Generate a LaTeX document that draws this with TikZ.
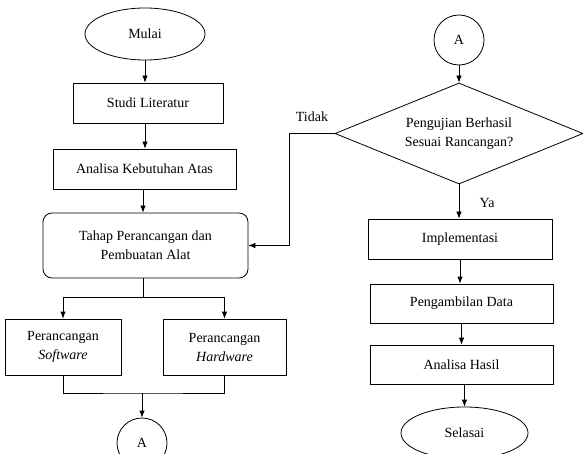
\documentclass[tikz,border=0pt]{standalone}
\usepackage{fontspec}
\setmainfont{Liberation Serif}
\usetikzlibrary{shapes.geometric,arrows.meta}
\begin{document}
\begin{tikzpicture}[x=1pt,y=1pt,
  every node/.style={font=\fontsize{14}{19}\selectfont, inner sep=0pt},
  boxnode/.style={draw, line width=0.8pt, rectangle, align=center},
  termnode/.style={draw, line width=0.8pt, ellipse},
  connnode/.style={draw, line width=0.8pt, circle, minimum size=50pt},
  decnode/.style={draw, line width=0.8pt, diamond, aspect=2.45, align=center},
  link/.style={line width=0.8pt},
  arr/.style={line width=0.8pt, -{Latex[length=7pt,width=5.5pt]}},
  lbl/.style={font=\fontsize{14}{16}\selectfont}
]
\clip (0,0) rectangle (583,-454);
\fill[white] (0,0) rectangle (583,-454);

% left column
\node[termnode, minimum width=120pt, minimum height=52pt] (mulai) at (145,-34) {Mulai};
\node[boxnode, minimum width=150pt, minimum height=40pt] (studi) at (148,-103) {Studi Literatur};
\node[boxnode, minimum width=183pt, minimum height=40pt] (analisa) at (144.5,-169) {Analisa Kebutuhan Atas};
\node[boxnode, rounded corners=9pt, minimum width=205pt, minimum height=65pt] (tahap) at (145.5,-245.5) {Tahap Perancangan dan\\Pembuatan Alat};
\node[boxnode, minimum width=116pt, minimum height=56pt] (soft) at (63,-347) {Perancangan\\\textit{Software}};
\node[boxnode, minimum width=123pt, minimum height=56pt] (hard) at (224.5,-347) {Perancangan\\\textit{Hardware}};
\node[connnode] (aL) at (142,-443) {A};

% right column
\node[connnode] (aR) at (459,-40) {A};
\node[decnode, minimum width=248pt, minimum height=101pt] (cek) at (459,-133.5) {Pengujian Berhasil\\Sesuai Rancangan?};
\node[boxnode, minimum width=184pt, minimum height=40pt] (impl) at (460,-239) {Implementasi};
\node[boxnode, minimum width=183pt, minimum height=39pt] (ambil) at (461.5,-303.5) {Pengambilan Data};
\node[boxnode, minimum width=183pt, minimum height=39pt] (hasil) at (461.5,-364.5) {Analisa Hasil};
\node[termnode, minimum width=127pt, minimum height=52pt] (selesai) at (464.5,-433) {Selasai};

\node[lbl] (tidak) at (312,-117) {Tidak};
\node[lbl] (ya) at (487,-203) {Ya};

% coordinates
\coordinate (br) at (143,-297);
\coordinate (jn) at (142,-393);
\coordinate (turn) at (289,-133.5);

% connectors left
\draw[arr] (mulai.south) -- (mulai.south |- studi.north);
\draw[arr] (studi.south -| mulai.south) -- (analisa.north -| mulai.south);
\draw[arr] (analisa.south -| br) -- (tahap.north -| br);
\draw[link] (tahap.south -| br) -- (br);
\draw[arr] (br) -| (soft.north);
\draw[arr] (br) -| (hard.north);
\draw[link] (soft.south) |- (jn) -| (hard.south);
\draw[arr] (jn) -- (aL.north);

% connectors right
\draw[arr] (aR.south) -- (cek.north);
\draw[arr] (cek.south) -- (impl.north -| cek.south);
\draw[arr] (impl.south) -- (ambil.north -| impl.south);
\draw[arr] (ambil.south) -- (hasil.north -| ambil.south);
\draw[arr] (hasil.south -| selesai.north) -- (selesai.north);
\draw[link] (cek.west) -- (turn);
\draw[arr] (turn) |- (tahap.east);
\end{tikzpicture}
\end{document}
